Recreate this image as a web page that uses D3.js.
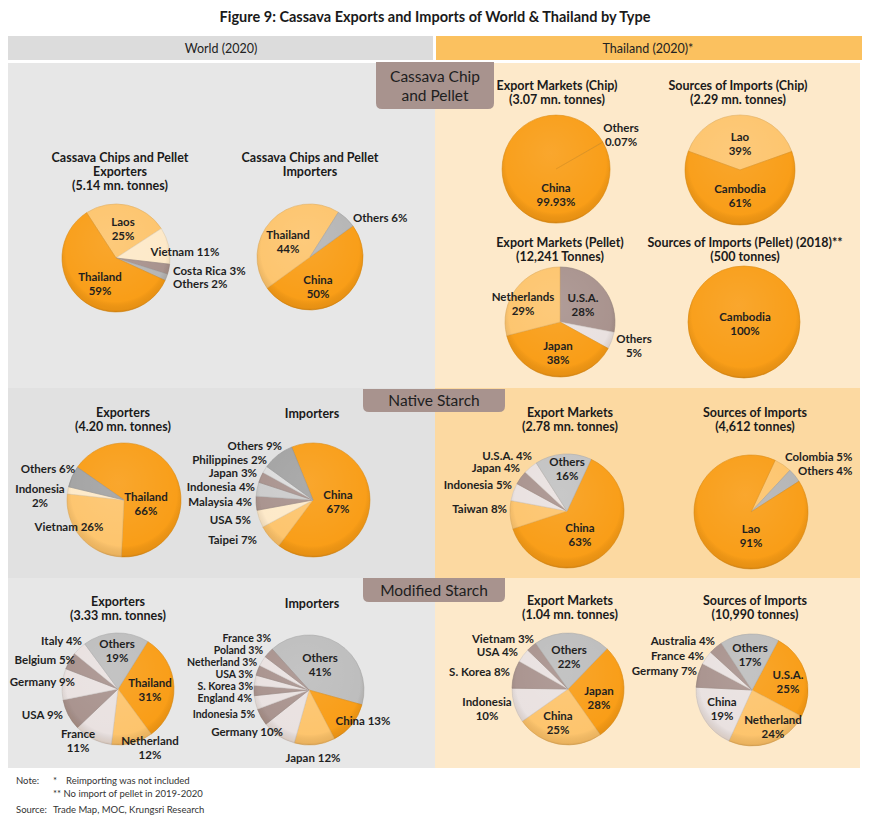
<!DOCTYPE html>
<html><head><meta charset="utf-8">
<script src="https://cdn.jsdelivr.net/npm/d3@7"></script>
<style>
body{margin:0;background:#fff;}
svg{display:block;font-family:Lato,"Open Sans",sans-serif;}
</style>
</head><body>
<svg id="chart" width="870" height="835"></svg>
<script>
// ---------- DATA ----------
const chartTitle = "Figure 9: Cassava Exports and Imports of World & Thailand by Type";
const headerLabels = ["World (2020)", "Thailand (2020)*"];
const sectionLabels = [["Cassava Chip","and Pellet"], ["Native Starch"], ["Modified Starch"]];
const noteLines = ["Reimporting was not included", "No import of pellet in 2019-2020"];
const sourceText = "Trade Map, MOC, Krungsri Research";

// Cassava chips & pellet – World exporters
const chipWorldExpTitle = ["Cassava Chips and Pellet","Exporters","(5.14 mn. tonnes)"];
const chipWorldExpCats = ["Laos","Vietnam","Costa Rica","Others","Thailand"];
const chipWorldExpVals = [25,11,3,2,59];
// World importers
const chipWorldImpTitle = ["Cassava Chips and Pellet","Importers"];
const chipWorldImpCats = ["China","Thailand","Others"];
const chipWorldImpVals = [50,44,6];
// Thailand export markets (chip)
const chipThExpTitle = ["Export Markets (Chip)","(3.07 mn. tonnes)"];
const chipThExpCats = ["Others","China"];
const chipThExpVals = [0.07,99.93];
// Thailand sources of imports (chip)
const chipThImpTitle = ["Sources of Imports (Chip)","(2.29 mn. tonnes)"];
const chipThImpCats = ["Lao","Cambodia"];
const chipThImpVals = [39,61];
// Thailand export markets (pellet)
const pelletThExpTitle = ["Export Markets (Pellet)","(12,241 Tonnes)"];
const pelletThExpCats = ["U.S.A.","Others","Japan","Netherlands"];
const pelletThExpVals = [28,5,38,29];
// Thailand sources of imports (pellet)
const pelletThImpTitle = ["Sources of Imports (Pellet) (2018)**","(500 tonnes)"];
const pelletThImpCats = ["Cambodia"];
const pelletThImpVals = [100];
// Native starch – World exporters
const nativeWorldExpTitle = ["Exporters","(4.20 mn. tonnes)"];
const nativeWorldExpCats = ["Thailand","Vietnam","Indonesia","Others"];
const nativeWorldExpVals = [66,26,2,6];
// Native starch – World importers
const nativeWorldImpTitle = ["Importers"];
const nativeWorldImpCats = ["China","Taipei","USA","Malaysia","Indonesia","Japan","Philippines","Others"];
const nativeWorldImpVals = [67,7,5,4,4,3,2,9];
// Native starch – Thailand export markets
const nativeThExpTitle = ["Export Markets","(2.78 mn. tonnes)"];
const nativeThExpCats = ["China","Taiwan","Indonesia","Japan","U.S.A.","Others"];
const nativeThExpVals = [63,8,5,4,4,16];
// Native starch – Thailand sources of imports
const nativeThImpTitle = ["Sources of Imports","(4,612 tonnes)"];
const nativeThImpCats = ["Colombia","Others","Lao"];
const nativeThImpVals = [5,4,91];
// Modified starch – World exporters
const modWorldExpTitle = ["Exporters","(3.33 mn. tonnes)"];
const modWorldExpCats = ["Thailand","Netherland","France","USA","Germany","Belgium","Italy","Others"];
const modWorldExpVals = [31,12,11,9,9,5,4,19];
// Modified starch – World importers
const modWorldImpTitle = ["Importers"];
const modWorldImpCats = ["Others","China","Japan","Germany","Indonesia","England","S. Korea","USA","Netherland","Poland","France"];
const modWorldImpVals = [41,13,12,10,5,4,3,3,3,3,3];
// Modified starch – Thailand export markets
const modThExpTitle = ["Export Markets","(1.04 mn. tonnes)"];
const modThExpCats = ["Japan","China","Indonesia","S. Korea","USA","Vietnam","Others"];
const modThExpVals = [28,25,10,8,4,3,22];
// Modified starch – Thailand sources of imports
const modThImpTitle = ["Sources of Imports","(10,990 tonnes)"];
const modThImpCats = ["U.S.A.","Netherland","China","Germany","France","Australia","Others"];
const modThImpVals = [25,24,19,7,4,4,17];

// ---------- STYLE ----------
const O="#f99d16", LO="#fdc46c", CR="#fde9c8", BR="#a8928d", G="#b5b5b5", G2="#a2a2a2",
      LG="#cbcbcb", LG2="#dcdcdc", PK="#e9e1e0";

// layout: center, radius, start angle (deg), title position, colours,
// label placements [dx, dy, anchor, lines, optional font size]
const pies = [
 {title:chipWorldExpTitle,cats:chipWorldExpCats,vals:chipWorldExpVals,cx:116,cy:258,r:54,start:-33,tx:120,ty:157,
  colors:[LO,CR,BR,G,O],
  lab:[[7,-29,"middle",2],[69,-6,"middle",1],[57,13,"start",1],[57,26,"start",1],[-16,26,"middle",2]]},
 {title:chipWorldImpTitle,cats:chipWorldImpCats,vals:chipWorldImpVals,cx:310,cy:257,r:53,start:54,tx:310,ty:157,
  colors:[O,LO,G],
  lab:[[8,30,"middle",2],[-22,-15,"middle",2],[43,-39,"start",1]]},
 {title:chipThExpTitle,cats:chipThExpCats,vals:chipThExpVals,cx:556,cy:169,r:54,start:60,tx:557,ty:85,
  colors:[G,O],
  lab:[[65,-34,"middle",2],[0,26,"middle",2]]},
 {title:chipThImpTitle,cats:chipThImpCats,vals:chipThImpVals,cx:740,cy:170,r:55,start:-70,tx:738,ty:85,
  colors:[LO,O],
  lab:[[0,-26,"middle",2],[0,26,"middle",2]]},
 {title:pelletThExpTitle,cats:pelletThExpCats,vals:pelletThExpVals,cx:560,cy:322,r:55,start:0,tx:560,ty:242,
  colors:[BR,PK,O,LO],
  lab:[[23,-17,"middle",2],[74,24,"middle",2],[-2,31,"middle",2],[-37,-18,"middle",2]]},
 {title:pelletThImpTitle,cats:pelletThImpCats,vals:pelletThImpVals,cx:744,cy:322,r:56,start:0,tx:745,ty:242,
  colors:[O],
  lab:[[1,2,"middle",2]]},
 {title:nativeWorldExpTitle,cats:nativeWorldExpCats,vals:nativeWorldExpVals,cx:124,cy:500,r:57,start:-55,tx:123,ty:412,
  colors:[O,LO,CR,G2],
  lab:[[22,4,"middle",2],[-55,27,"middle",1],[-84,-4,"middle",2],[-76,-31,"middle",1]]},
 {title:nativeWorldImpTitle,cats:nativeWorldImpCats,vals:nativeWorldImpVals,cx:313,cy:500,r:57,start:-22,tx:312,ty:413,
  colors:[O,LO,CR,BR,LG,BR,LG2,G2],
  lab:[[25,2,"middle",2],[-56,40,"end",1],[-62,20,"end",1],[-61,2,"end",1],[-58,-13,"end",1],[-56,-27,"end",1],[-46,-40,"end",1],[-31,-54,"end",1]]},
 {title:nativeThExpTitle,cats:nativeThExpCats,vals:nativeThExpVals,cx:567,cy:511,r:57,start:25,tx:570,ty:412,
  colors:[O,LO,PK,BR,PK,"#c2c2c2"],
  lab:[[13,24,"middle",2],[-60,-2,"end",1],[-55,-26,"end",1],[-47,-43,"end",1],[-35,-55,"end",1],[0,-42,"middle",2]]},
 {title:nativeThImpTitle,cats:nativeThImpCats,vals:nativeThImpVals,cx:751,cy:512,r:57,start:25,tx:755,ty:412,
  colors:[LO,G,O],
  lab:[[34,-55,"start",1],[47,-41,"start",1],[0,24,"middle",2]]},
 {title:modWorldExpTitle,cats:modWorldExpCats,vals:modWorldExpVals,cx:118,cy:689,r:56,start:32,tx:118,ty:601,
  colors:[O,LO,PK,BR,PK,BR,PK,"#bdbdbd"],
  lab:[[32,1,"middle",2],[32,59,"middle",2],[-40,52,"middle",2],[-55,26,"end",1],[-43,-7,"end",1],[-43,-29,"end",1],[-36,-48,"end",1],[-1,-38,"middle",2]]},
 {title:modWorldImpTitle,cats:modWorldImpCats,vals:modWorldImpVals,cx:309,cy:690,r:55,start:-42,tx:312,ty:603,
  colors:["#bdbdbd",O,LO,PK,BR,PK,BR,PK,BR,PK,BR],
  lab:[[11,-25,"middle",2],[54,31,"middle",1],[4,68,"middle",1],[-26,42,"end",1],[-54,24,"end",1,10.5],[-57,8.5,"end",1,10.5],[-56,-3.5,"end",1,10.5],[-56,-15.5,"end",1,10.5],[-52,-27.5,"end",1,10.5],[-46,-39.5,"end",1,10.5],[-38,-51.5,"end",1,10.5]]},
 {title:modThExpTitle,cats:modThExpCats,vals:modThExpVals,cx:568,cy:689,r:56,start:44,tx:570,ty:600,
  colors:[O,LO,PK,BR,PK,BR,"#bdbdbd"],
  lab:[[31,9,"middle",2],[-10,34,"middle",2],[-81,20,"middle",2],[-58,-17,"end",1],[-50,-37,"end",1],[-34,-50,"end",1],[1,-32,"middle",2]]},
 {title:modThImpTitle,cats:modThImpCats,vals:modThImpVals,cx:752,cy:690,r:56,start:28,tx:755,ty:600,
  colors:[O,LO,PK,BR,PK,BR,"#bdbdbd"],
  lab:[[36,-8,"middle",2],[21,37,"middle",2],[-30,19,"middle",2],[-55,-19,"end",1],[-48,-34,"end",1],[-37,-49,"end",1],[-2,-35,"middle",2]]}
];

// ---------- DRAW ----------
const svg = d3.select("#chart");
const defs = svg.append("defs");
const rg = defs.append("radialGradient").attr("id","rim").attr("cx","50%").attr("cy","44%").attr("r","58%");
rg.append("stop").attr("offset","0.80").attr("stop-color","#000").attr("stop-opacity",0);
rg.append("stop").attr("offset","0.93").attr("stop-color","#6b3a00").attr("stop-opacity",0.12);
rg.append("stop").attr("offset","1").attr("stop-color","#5a2d00").attr("stop-opacity",0.32);
const hl = defs.append("radialGradient").attr("id","hl").attr("cx","45%").attr("cy","35%").attr("r","60%");
hl.append("stop").attr("offset","0").attr("stop-color","#fff").attr("stop-opacity",0.10);
hl.append("stop").attr("offset","1").attr("stop-color","#fff").attr("stop-opacity",0);

// section backgrounds
const sections = [
  {y0:63,y1:388,left:"#e7e7e7",right:"#fde9ca"},
  {y0:388,y1:578,left:"#e1e1e1",right:"#fcd9a1"},
  {y0:578,y1:768,left:"#e7e7e7",right:"#fde9ca"}
];
sections.forEach(s=>{
  svg.append("rect").attr("x",8).attr("y",s.y0).attr("width",427).attr("height",s.y1-s.y0).attr("fill",s.left);
  svg.append("rect").attr("x",435).attr("y",s.y0).attr("width",425).attr("height",s.y1-s.y0).attr("fill",s.right);
});

// title
svg.append("text").attr("x",435).attr("y",22).attr("text-anchor","middle")
  .attr("font-size",14.5).attr("font-weight","bold").attr("fill","#1a1a1a").text(chartTitle);

// header bars
svg.append("rect").attr("x",8).attr("y",36).attr("width",425).attr("height",24).attr("fill","#dcdcdc");
svg.append("rect").attr("x",436).attr("y",36).attr("width",426).attr("height",24).attr("fill","#fbc15f");
svg.append("text").attr("x",221).attr("y",52.5).attr("text-anchor","middle").attr("font-size",12.5).attr("fill","#222").text(headerLabels[0]);
svg.append("text").attr("x",648).attr("y",52.5).attr("text-anchor","middle").attr("font-size",12.5).attr("fill","#222").text(headerLabels[1]);

// section tabs
function tab(x,y,w,h,lines){
  const r=6;
  const p=`M${x},${y} H${x+w} V${y+h-r} Q${x+w},${y+h} ${x+w-r},${y+h} H${x+r} Q${x},${y+h} ${x},${y+h-r} Z`;
  svg.append("path").attr("d",p).attr("fill","#a8938e");
  lines.forEach((t,i)=>{
    svg.append("text").attr("x",x+w/2).attr("y",y+h/2+5.5+(i-(lines.length-1)/2)*19)
      .attr("text-anchor","middle").attr("font-size",15.5).attr("fill","#1e1e1e").text(t);
  });
}
tab(376,62,118,47,sectionLabels[0]);
tab(363,389,142,23,sectionLabels[1]);
tab(363,578,142,24,sectionLabels[2]);

// pies
const fmt = v => v + "%";
pies.forEach(p=>{
  const g = svg.append("g").attr("transform",`translate(${p.cx},${p.cy})`);
  const a0 = p.start*Math.PI/180;
  const arcs = d3.pie().sort(null).value(d=>d).startAngle(a0).endAngle(a0+2*Math.PI)(p.vals);
  const arc = d3.arc().innerRadius(0).outerRadius(p.r);
  g.selectAll("path.slice").data(arcs).join("path").attr("class","slice")
    .attr("d",arc).attr("fill",(d,i)=>p.colors[i])
    .attr("stroke",(d,i)=>d3.color(p.colors[i]).darker(0.35)).attr("stroke-width",0.6);
  g.append("circle").attr("r",p.r).attr("fill","url(#hl)");
  g.append("circle").attr("r",p.r).attr("fill","url(#rim)");
  // title
  p.title.forEach((t,i)=>{
    svg.append("text").attr("x",p.tx).attr("y",p.ty+4.5+i*14).attr("text-anchor","middle")
      .attr("font-size",12.5).attr("font-weight","bold").attr("fill","#1a1a1a").text(t);
  });
  // labels
  arcs.forEach((d,i)=>{
    const L = p.lab[i];
    const name = p.cats[i], val = fmt(p.vals[i]);
    const lines = L[3]===2 ? [name,val] : [name+" "+val];
    const fsz = L[4] || 11.5;
    lines.forEach((t,j)=>{
      g.append("text").attr("x",L[0]).attr("y",L[1]+fsz*0.35+(j-(lines.length-1)/2)*14)
        .attr("text-anchor",L[2]).attr("font-size",fsz).attr("font-weight","bold")
        .attr("fill","#1f1f1f").text(t);
    });
  });
});

// notes
const fs=9.5, nc="#333";
svg.append("text").attr("x",16).attr("y",784).attr("font-size",fs).attr("fill",nc).text("Note:");
svg.append("text").attr("x",53).attr("y",784).attr("font-size",fs).attr("fill",nc).text("*");
svg.append("text").attr("x",66).attr("y",784).attr("font-size",fs).attr("fill",nc).text(noteLines[0]);
svg.append("text").attr("x",53).attr("y",797).attr("font-size",fs).attr("fill",nc).text("** " + noteLines[1]);
svg.append("text").attr("x",16).attr("y",813).attr("font-size",fs).attr("fill",nc).text("Source:");
svg.append("text").attr("x",53).attr("y",813).attr("font-size",fs).attr("fill",nc).text(sourceText);
</script>
</body></html>
